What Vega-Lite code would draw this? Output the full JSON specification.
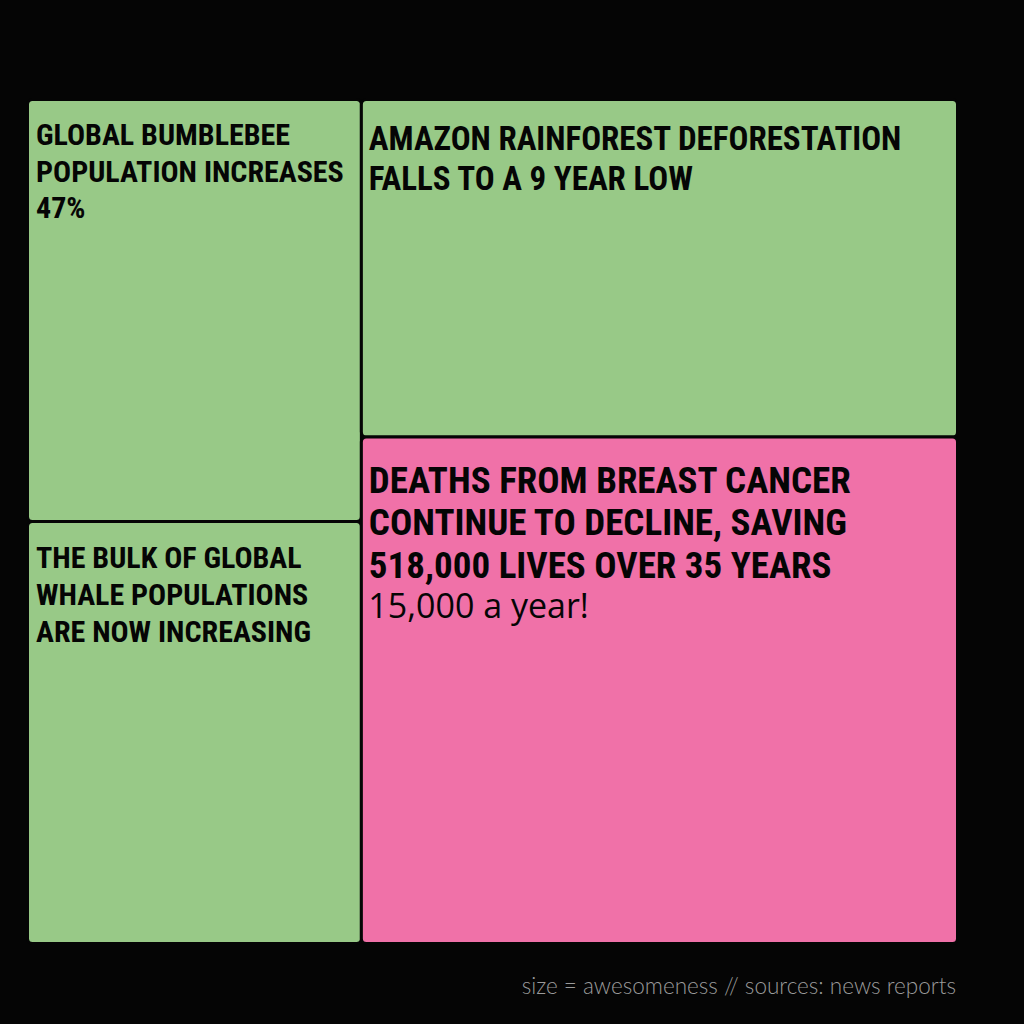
{
  "$schema": "https://vega.github.io/schema/vega-lite/v6.json",
  "width": 930,
  "height": 844,
  "autosize": "none",
  "padding": {"left": 27.5, "top": 99.5, "right": 66.5, "bottom": 80.5},
  "background": "#050505",
  "config": {"view": {"stroke": null}},
  "datasets": {
    "boxes": [
      {"id": "bee", "x0": 0, "x1": 35.9, "y0": 0, "y1": 50, "good": "yes", "head": "GLOBAL BUMBLEBEE\nPOPULATION INCREASES\n47%", "sub": ""},
      {"id": "whale", "x0": 0, "x1": 35.9, "y0": 50, "y1": 100, "good": "yes", "head": "THE BULK OF GLOBAL\nWHALE POPULATIONS\nARE NOW INCREASING", "sub": ""},
      {"id": "amazon", "x0": 35.9, "x1": 100, "y0": 0, "y1": 40, "good": "yes", "head": "AMAZON RAINFOREST DEFORESTATION\nFALLS TO A 9 YEAR LOW", "sub": ""},
      {"id": "cancer", "x0": 35.9, "x1": 100, "y0": 40, "y1": 100, "good": "health", "head": "DEATHS FROM BREAST CANCER\nCONTINUE TO DECLINE, SAVING\n518,000 LIVES OVER 35 YEARS", "sub": "15,000 a year!"}
    ],
    "note": [
      {"x0": 100, "y0": 100, "text": "size = awesomeness // sources: news reports"}
    ]
  },
  "data": {"name": "boxes"},
  "encoding": {
    "x": {"field": "x0", "type": "quantitative", "scale": {"domain": [0, 100], "nice": false, "zero": false}, "axis": null},
    "y": {"field": "y0", "type": "quantitative", "scale": {"domain": [0, 100], "nice": false, "zero": false, "reverse": true}, "axis": null}
  },
  "layer": [
    {
      "mark": {"type": "rect", "stroke": "#050505", "strokeWidth": 3, "cornerRadius": 5},
      "encoding": {
        "x2": {"field": "x1"},
        "y2": {"field": "y1"},
        "color": {"field": "good", "type": "nominal", "scale": {"domain": ["yes", "health"], "range": ["#98c987", "#f071a8"]}, "legend": null}
      }
    },
    {
      "transform": [{"filter": "datum.id === 'bee'"}],
      "mark": {"type": "text", "align": "left", "baseline": "alphabetic", "lineBreak": "\n", "font": "Roboto Condensed, DejaVu Sans Condensed", "fontWeight": "bold", "fontSize": 30, "lineHeight": 36.5, "dx": 8.5, "dy": 45.5, "color": "#050505"},
      "encoding": {"text": {"field": "head"}}
    },
    {
      "transform": [{"filter": "datum.id === 'whale'"}],
      "mark": {"type": "text", "align": "left", "baseline": "alphabetic", "lineBreak": "\n", "font": "Roboto Condensed, DejaVu Sans Condensed", "fontWeight": "bold", "fontSize": 30, "lineHeight": 37, "dx": 8.5, "dy": 46.5, "color": "#050505"},
      "encoding": {"text": {"field": "head"}}
    },
    {
      "transform": [{"filter": "datum.id === 'amazon'"}],
      "mark": {"type": "text", "align": "left", "baseline": "alphabetic", "lineBreak": "\n", "font": "Roboto Condensed, DejaVu Sans Condensed", "fontWeight": "bold", "fontSize": 33, "lineHeight": 40, "dx": 7.5, "dy": 50.5, "color": "#050505"},
      "encoding": {"text": {"field": "head"}}
    },
    {
      "transform": [{"filter": "datum.id === 'cancer'"}],
      "mark": {"type": "text", "align": "left", "baseline": "alphabetic", "lineBreak": "\n", "font": "Roboto Condensed, DejaVu Sans Condensed", "fontWeight": "bold", "fontSize": 37, "lineHeight": 42.5, "dx": 7.5, "dy": 55.5, "color": "#050505"},
      "encoding": {"text": {"field": "head"}}
    },
    {
      "transform": [{"filter": "datum.id === 'cancer'"}],
      "mark": {"type": "text", "align": "left", "baseline": "alphabetic", "font": "Open Sans", "fontWeight": 400, "fontSize": 34, "dx": 7, "dy": 180.5, "color": "#050505"},
      "encoding": {"text": {"field": "sub"}}
    },
    {
      "data": {"name": "note"},
      "mark": {"type": "text", "align": "right", "baseline": "alphabetic", "font": "Lato", "fontWeight": 300, "fontSize": 22.5, "dx": -1.5, "dy": 50, "color": "#9a9a9a"},
      "encoding": {"text": {"field": "text"}}
    }
  ]
}
